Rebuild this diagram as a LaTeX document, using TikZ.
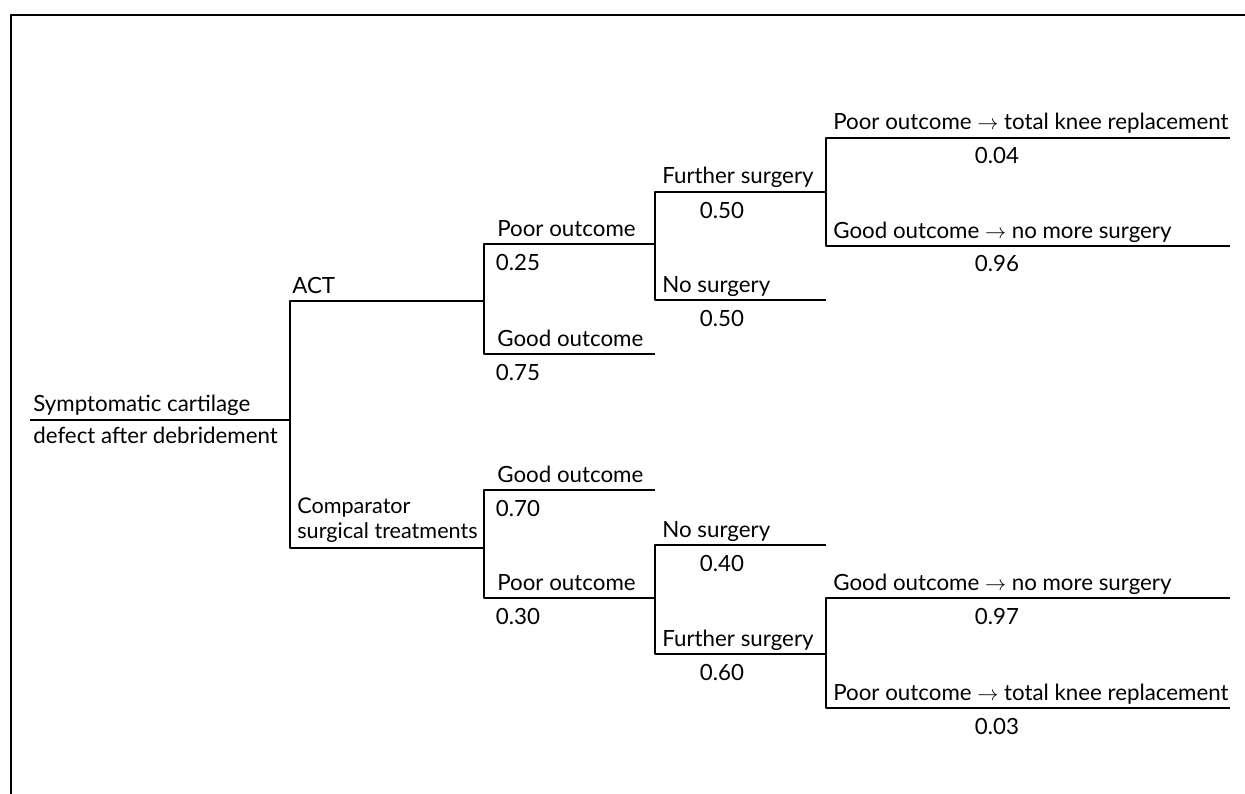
\documentclass[tikz,border=0pt]{standalone}
\usepackage{fontspec}
\setmainfont{Lato}
\tikzset{
  lbl/.style={anchor=base west, inner sep=0pt, font=\fontsize{12.7}{14.5}\selectfont},
  prob/.style={anchor=base, inner sep=0pt, font=\fontsize{12.7}{14.5}\selectfont},
  branch/.style={line width=0.75pt}
}
\begin{document}
\begin{tikzpicture}[x=0.02cm, y=-0.02cm, line join=round, line cap=butt]
		\useasboundingbox (0,0) rectangle (1245,794);
		\draw [line width=1.2pt] (11,794) -- (11,15) -- (1245,15);
		% decision points
		\path
		(30,420) coordinate (R0) (290,420) coordinate (R)
		(290,301) coordinate (A) (484,301) coordinate (A1)
		(484,244) coordinate (AP) (655,244) coordinate (AP1)
		(484,354) coordinate (AG) (655,354) coordinate (AG1)
		(655,192) coordinate (AF) (826,192) coordinate (AF1)
		(655,300) coordinate (AN) (826,300) coordinate (AN1)
		(826,138) coordinate (AT) (1230,138) coordinate (AT1)
		(826,246) coordinate (AM) (1230,246) coordinate (AM1)
		(290,548) coordinate (C) (484,548) coordinate (C1)
		(484,490) coordinate (CG) (655,490) coordinate (CG1)
		(484,598) coordinate (CP) (655,598) coordinate (CP1)
		(655,545) coordinate (CN) (826,545) coordinate (CN1)
		(655,654) coordinate (CF) (826,654) coordinate (CF1)
		(826,598) coordinate (CM) (1230,598) coordinate (CM1)
		(826,708) coordinate (CT) (1230,708) coordinate (CT1);
		\draw [branch] (R0) -- (R) (A1) -- (A) -- (C) -- (C1);
		\draw [branch] (AP1) -- (AP) -- (AG) -- (AG1) (AF1) -- (AF) -- (AN) -- (AN1)
		(AT1) -- (AT) -- (AM) -- (AM1);
		\draw [branch] (CG1) -- (CG) -- (CP) -- (CP1) (CN1) -- (CN) -- (CF) -- (CF1)
		(CM1) -- (CM) -- (CT) -- (CT1);
		% texts
		\node [lbl] (tR) at ([shift={(3,-9)}]R0) {Symptomatic cartilage};
		\node [lbl] (tR') at ([shift={(3,23)}]R0) {defect after debridement};
		\node [lbl] (tA) at ([shift={(2,-8)}]A) {ACT};
		\node [lbl, anchor=south west, align=left, font=\fontsize{12.3}{14.5}\selectfont] (tC) at ([shift={(7,-5)}]C) {Comparator\\surgical treatments};
		\node [lbl] (tAP) at ([shift={(13,-8)}]AP) {Poor outcome};
		\node [lbl] (tAG) at ([shift={(13,-8)}]AG) {Good outcome};
		\node [lbl] (tAF) at ([shift={(7,-8)}]AF) {Further surgery};
		\node [lbl] (tAN) at ([shift={(7,-8)}]AN) {No surgery};
		\node [lbl] (tAT) at ([shift={(7,-8)}]AT) {Poor outcome $\rightarrow$ total knee replacement};
		\node [lbl] (tAM) at ([shift={(7,-8)}]AM) {Good outcome $\rightarrow$ no more surgery};
		\node [lbl] (tCG) at ([shift={(13,-8)}]CG) {Good outcome};
		\node [lbl] (tCP) at ([shift={(13,-8)}]CP) {Poor outcome};
		\node [lbl] (tCN) at ([shift={(7,-8)}]CN) {No surgery};
		\node [lbl] (tCF) at ([shift={(7,-8)}]CF) {Further surgery};
		\node [lbl] (tCM) at ([shift={(7,-8)}]CM) {Good outcome $\rightarrow$ no more surgery};
		\node [lbl] (tCT) at ([shift={(7,-8)}]CT) {Poor outcome $\rightarrow$ total knee replacement};
		% probabilities
		\node [prob] (pAP) at ([shift={(34,26)}]AP) {0.25};
		\node [prob] (pAG) at ([shift={(34,26)}]AG) {0.75};
		\node [prob] (pAF) at ([shift={(67,26)}]AF) {0.50};
		\node [prob] (pAN) at ([shift={(67,26)}]AN) {0.50};
		\node [prob] (pAT) at ([shift={(171,26)}]AT) {0.04};
		\node [prob] (pAM) at ([shift={(171,26)}]AM) {0.96};
		\node [prob] (pCG) at ([shift={(34,26)}]CG) {0.70};
		\node [prob] (pCP) at ([shift={(34,26)}]CP) {0.30};
		\node [prob] (pCN) at ([shift={(67,26)}]CN) {0.40};
		\node [prob] (pCF) at ([shift={(67,26)}]CF) {0.60};
		\node [prob] (pCM) at ([shift={(171,26)}]CM) {0.97};
		\node [prob] (pCT) at ([shift={(171,26)}]CT) {0.03};
	\end{tikzpicture}
\end{document}
